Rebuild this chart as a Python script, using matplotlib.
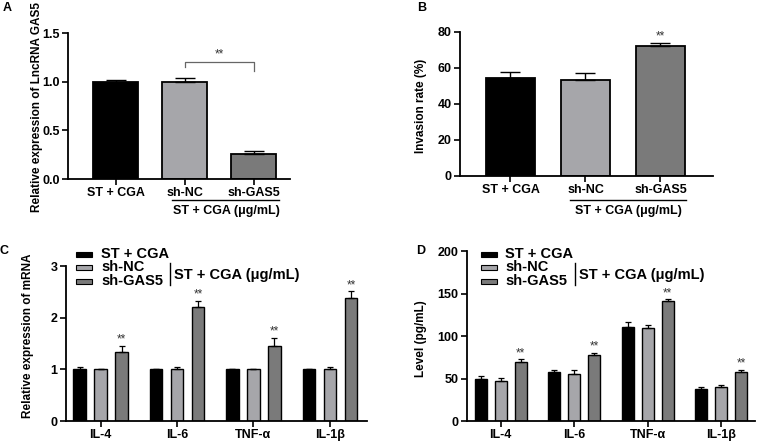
import numpy as np
import matplotlib
matplotlib.use("Agg")
import matplotlib.pyplot as plt
from matplotlib.lines import Line2D
from matplotlib.patches import Rectangle

plt.rcParams['font.family'] = ['Liberation Sans', 'DejaVu Sans']
plt.rcParams['font.weight'] = 'bold'

W, H = 758, 444
TICK_FS = 9
LABEL_FS = 8.5
LEG_FS = 10.5

# colours of the three groups
colors = ['#000000', '#a6a6aa', '#7a7a7a']
groupNames = ['ST + CGA', 'sh-NC', 'sh-GAS5']

# panel A - LncRNA GAS5
aValues = [1.0, 1.0, 0.26]
aErrors = [0.02, 0.04, 0.025]

# panel B - invasion rate
bValues = [54.5, 53.5, 72.0]
bErrors = [3.2, 3.5, 2.0]

# panel C / D - cytokines
cytokines = ['IL-4', 'IL-6', 'TNF-α', 'IL-1β']
cValues = {
    'ST + CGA': [1.0, 1.0, 1.0, 1.0],
    'sh-NC': [1.0, 1.0, 1.0, 1.0],
    'sh-GAS5': [1.33, 2.21, 1.45, 2.38],
}
cErrors = {
    'ST + CGA': [0.04, 0.015, 0.0, 0.015],
    'sh-NC': [0.015, 0.04, 0.015, 0.04],
    'sh-GAS5': [0.13, 0.12, 0.16, 0.13],
}
dValues = {
    'ST + CGA': [49, 58, 111, 38],
    'sh-NC': [47, 55, 109, 40],
    'sh-GAS5': [70, 78, 141, 58],
}
dErrors = {
    'ST + CGA': [4, 2.5, 5, 1.5],
    'sh-NC': [4, 4.5, 3.5, 2.5],
    'sh-GAS5': [2.5, 2.5, 2.5, 2.5],
}

fig = plt.figure(figsize=(W / 100, H / 100), dpi=100)


def fx(x):
    return x / W


def fy(y):
    return 1 - y / H


def makeAxes(left, right, top, bottom):
    ax = fig.add_axes([fx(left), fy(bottom), (right - left) / W, (bottom - top) / H])
    for s in ['top', 'right']:
        ax.spines[s].set_visible(False)
    for s in ['left', 'bottom']:
        ax.spines[s].set_linewidth(1.3)
    ax.tick_params(axis='both', length=4, width=1.2, labelsize=TICK_FS, pad=2)
    return ax


def figLine(x0, y0, x1, y1, color='black', lw=1.0):
    fig.add_artist(Line2D([fx(x0), fx(x1)], [fy(y0), fy(y1)], color=color, lw=lw,
                          transform=fig.transFigure))


def stars(ax, x, y, size=8.5):
    ax.text(x, y, '**', ha='center', va='bottom', fontsize=size, fontweight='normal',
            color='#333333', clip_on=False)


# ---------------- A ----------------
axA = makeAxes(68, 290, 33, 179)
xA = np.arange(3)
axA.bar(xA, aValues, width=0.65, color=colors, edgecolor='black', linewidth=1.3)
axA.errorbar(xA, aValues, yerr=[np.zeros(3), aErrors], fmt='none', ecolor='black',
             elinewidth=1.0, capsize=7, capthick=1.0)
axA.set_xlim(-0.686, 2.52)
axA.set_ylim(0, 1.5)
axA.set_yticks([0, 0.5, 1.0, 1.5])
axA.set_yticklabels(['0.0', '0.5', '1.0', '1.5'], fontweight='bold')
axA.set_xticks(xA)
axA.set_xticklabels(groupNames, fontweight='bold')
axA.set_ylabel('Relative expression of LncRNA GAS5', fontsize=LABEL_FS, fontweight='bold')
axA.yaxis.set_label_coords(-0.113, 0.49)
# bracket
axA.plot([1, 1, 2, 2], [1.15, 1.2, 1.2, 1.11], color='#666666', lw=0.9, clip_on=False)
stars(axA, 1.5, 1.22)

figLine(172, 200, 279, 200)
fig.text(fx(226), fy(211), 'ST + CGA (μg/mL)', ha='center', va='center', fontsize=TICK_FS,
         fontweight='bold')

# ---------------- B ----------------
axB = makeAxes(460, 713, 32, 176)
xB = np.arange(3)
axB.bar(xB, bValues, width=0.65, color=colors, edgecolor='black', linewidth=1.3)
axB.errorbar(xB, bValues, yerr=[np.zeros(3), bErrors], fmt='none', ecolor='black',
             elinewidth=1.0, capsize=7, capthick=1.0)
axB.set_xlim(-0.673, 2.7)
axB.set_ylim(0, 80)
axB.set_yticks([0, 20, 40, 60, 80])
axB.set_yticklabels(['0', '20', '40', '60', '80'], fontweight='bold')
axB.set_xticks(xB)
axB.set_xticklabels(groupNames, fontweight='bold')
axB.set_ylabel('Invasion rate (%)', fontsize=LABEL_FS, fontweight='bold')
axB.yaxis.set_label_coords(-0.132, 0.49)
stars(axB, 2, bValues[2] + bErrors[2] + 0.3)

figLine(570, 200, 686, 200)
fig.text(fx(628), fy(211), 'ST + CGA (μg/mL)', ha='center', va='center', fontsize=TICK_FS,
         fontweight='bold')


# ---------------- C and D ----------------
def groupedPanel(ax, values, errors, offset, width, capsize, starGap):
    x = np.arange(len(cytokines))
    for i, name in enumerate(groupNames):
        pos = x + (i - 1) * offset
        ax.bar(pos, values[name], width=width, color=colors[i], edgecolor='black',
               linewidth=1.0, label=name)
        errs = errors[name]
        ax.errorbar(pos, values[name], yerr=[np.zeros(len(x)), errs], fmt='none',
                    ecolor='black', elinewidth=0.9, capsize=capsize, capthick=0.9)
        if name == 'sh-GAS5':
            for p, v, e in zip(pos, values[name], errs):
                stars(ax, p, v + e + starGap)
    ax.set_xticks(x)
    ax.set_xticklabels(cytokines, fontweight='bold')


axC = makeAxes(66, 367, 266, 421)
groupedPanel(axC, cValues, cErrors, 0.275, 0.164, 2.5, 0.0)
axC.set_xlim(-0.454, 3.486)
axC.set_ylim(0, 3)
axC.set_yticks([0, 1, 2, 3])
axC.set_yticklabels(['0', '1', '2', '3'], fontweight='bold')
axC.set_ylabel('Relative expression of mRNA', fontsize=LABEL_FS, fontweight='bold')
axC.yaxis.set_label_coords(-0.106, 0.548)

axD = makeAxes(467, 755, 251, 421)
groupedPanel(axD, dValues, dErrors, 0.272, 0.163, 2.5, 0.0)
axD.set_xlim(-0.46, 3.46)
axD.set_ylim(0, 200)
axD.set_yticks([0, 50, 100, 150, 200])
axD.set_yticklabels(['0', '50', '100', '150', '200'], fontweight='bold')
axD.set_ylabel('Level (pg/mL)', fontsize=LABEL_FS, fontweight='bold')
axD.yaxis.set_label_coords(-0.14, 0.484)


# hand-made legend, GraphPad style
def groupLegend(patchX, textX, rows, barX, textX2):
    for i, name in enumerate(groupNames):
        yc = rows[i]
        fig.add_artist(Rectangle((fx(patchX), fy(yc + 2.5)), 16 / W, 5 / H,
                                 facecolor=colors[i], edgecolor='black', lw=0.8,
                                 transform=fig.transFigure))
        fig.text(fx(textX), fy(yc), name, ha='left', va='center', fontsize=LEG_FS,
                 fontweight='bold')
    figLine(barX, 263, barX, 285, lw=1.0)
    fig.text(fx(textX2), fy(275), 'ST + CGA (μg/mL)', ha='left', va='center',
             fontsize=LEG_FS, fontweight='bold')


groupLegend(76, 101, [254, 267, 281], 170, 174)
groupLegend(481, 505, [254, 267, 281], 575, 579)

# panel letters
for letter, x, y in [('A', 7, 8), ('B', 422, 8), ('C', 4, 251), ('D', 421, 251)]:
    fig.text(fx(x), fy(y), letter, ha='center', va='center', fontsize=9, fontweight='bold')

fig.savefig('out.png', dpi=100)
